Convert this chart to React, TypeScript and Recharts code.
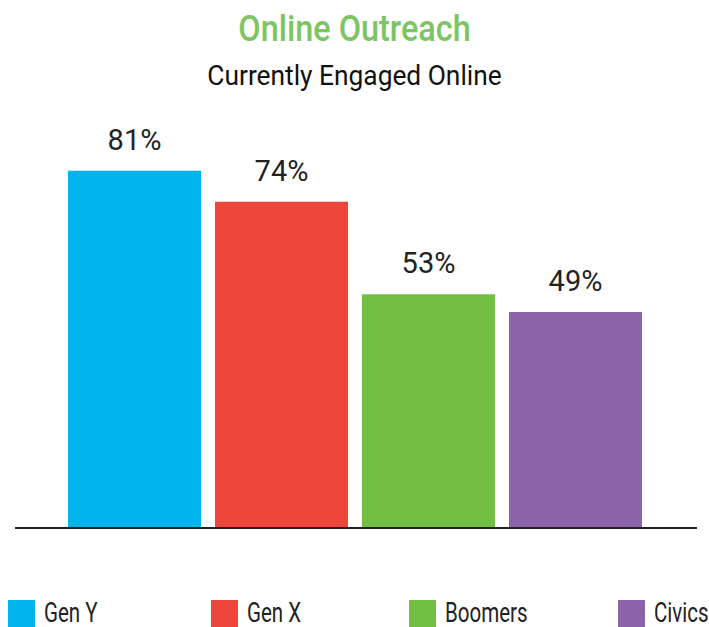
import { BarChart, Bar, XAxis, YAxis, Cell, LabelList } from 'recharts';

const categories = ['Gen Y', 'Gen X', 'Boomers', 'Civics'];
const values = [81, 74, 53, 49];
const colors = ['#00b4ee', '#ef463c', '#72bf44', '#8c62a9'];

const FONT = 'Roboto, "Liberation Sans", sans-serif';

const chartData = categories.map((name, i) => ({ name, value: values[i] }));

const legendLeft = [8, 211, 409, 618];

const App = () => {
  return (
    <div style={{ position: 'absolute', left: 0, top: 0, width: 709, height: 627, overflow: 'hidden', background: '#fff', fontFamily: FONT }}>
      <div style={{ position: 'absolute', top: 8, width: 709, textAlign: 'center', color: '#7dc462', fontSize: 36, fontWeight: 500, transform: 'scaleX(0.9)' }}>
        Online Outreach
      </div>
      <div style={{ position: 'absolute', top: 59, width: 709, textAlign: 'center', color: '#111', fontSize: 28, transform: 'scaleX(0.94)' }}>
        Currently Engaged Online
      </div>
      <BarChart
        width={709}
        height={627}
        data={chartData}
        margin={{ top: 87, right: 12, left: 15, bottom: 98 }}
        style={{ position: 'absolute', left: 0, top: 0 }}
      >
        <XAxis
          dataKey="name"
          tick={false}
          tickLine={false}
          height={1}
          padding={{ left: 46, right: 48 }}
          axisLine={{ stroke: '#222', strokeWidth: 2 }}
        />
        <YAxis hide domain={[0, 100]} />
        <Bar dataKey="value" barSize={133} isAnimationActive={false}>
          {chartData.map((_entry, index) => (
            <Cell key={`cell-${index}`} fill={colors[index]} />
          ))}
          <LabelList
            dataKey="value"
            position="top"
            offset={21}
            formatter={(v: any) => `${v}%`}
            style={{ fontFamily: FONT, fontSize: 29, fill: '#222' }}
          />
        </Bar>
      </BarChart>
      {categories.map((name, i) => (
        <div key={name}>
          <div style={{ position: 'absolute', left: legendLeft[i], top: 600, width: 27, height: 30, background: colors[i] }} />
          <span
            style={{
              position: 'absolute',
              left: legendLeft[i] + 36,
              top: 600,
              fontSize: 27,
              lineHeight: '27px',
              color: '#222',
              whiteSpace: 'nowrap',
              transform: 'scaleX(0.76)',
              transformOrigin: 'left center',
            }}
          >
            {name}
          </span>
        </div>
      ))}
    </div>
  );
};

export default App;
